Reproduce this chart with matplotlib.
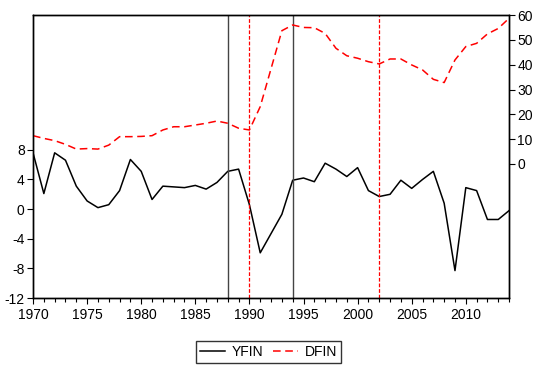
import matplotlib
matplotlib.use("Agg")
import matplotlib.pyplot as plt
from matplotlib.ticker import MultipleLocator

plt.rcParams["font.family"] = ["Liberation Sans", "DejaVu Sans"]
plt.rcParams["axes.unicode_minus"] = False

years = list(range(1970, 2015))

yfin = [7.6, 2.1, 7.6, 6.6, 3.1, 1.1, 0.2, 0.6, 2.5, 6.7,
        5.1, 1.3, 3.1, 3.0, 2.9, 3.2, 2.7, 3.6, 5.1, 5.4,
        0.6, -5.9, -3.3, -0.7, 3.9, 4.2, 3.7, 6.2, 5.4, 4.4,
        5.6, 2.5, 1.7, 2.0, 3.9, 2.8, 4.0, 5.1, 0.8, -8.3,
        2.9, 2.5, -1.4, -1.4, -0.2]

dfin = [11.4, 10.3, 9.4, 7.9, 6.0, 6.2, 6.0, 7.6, 11.0, 11.0,
        11.1, 11.4, 13.7, 15.0, 15.0, 15.7, 16.4, 17.3, 16.4, 14.4,
        13.7, 23.1, 38.4, 53.7, 56.0, 55.0, 54.9, 52.6, 46.6, 43.6,
        42.6, 41.2, 40.3, 42.3, 42.3, 39.9, 37.9, 34.1, 32.8, 41.9,
        47.3, 48.6, 52.4, 54.6, 58.7]

solid_breaks = [1988, 1994]
dashed_breaks = [1990, 2002]

fig = plt.figure(figsize=(5.37, 3.67), dpi=100)
ax = fig.add_axes([0.0615, 0.188, 0.8865, 0.771])
ax2 = ax.twinx()

l1, = ax.plot(years, yfin, color="black", lw=1.1, label="YFIN")
l2, = ax2.plot(years, dfin, color="red", lw=1.1, dashes=(5, 3), label="DFIN")

for yr in solid_breaks:
    ax.axvline(yr, color="#444444", lw=1.0)
for yr in dashed_breaks:
    ax.axvline(yr, color="red", lw=0.9, dashes=(3, 1.5))

ax.set_xlim(1970, 2014)
ax.set_ylim(-12, 26.2)
ax2.set_ylim(-54, 60)

ax.set_yticks([-12, -8, -4, 0, 4, 8])
ax2.set_yticks([0, 10, 20, 30, 40, 50, 60])
ax.xaxis.set_major_locator(MultipleLocator(5))
ax.xaxis.set_minor_locator(MultipleLocator(1))

for a in (ax, ax2):
    a.tick_params(which="both", direction="out", labelsize=10, width=0.8)
    a.tick_params(which="major", length=4)
    a.tick_params(which="minor", length=3)
    for s in a.spines.values():
        s.set_linewidth(1.0)
ax.tick_params(axis="y", pad=2)
ax2.tick_params(axis="y", pad=2)

fig.legend(handles=[l1, l2], loc="center", bbox_to_anchor=(0.5, 0.04),
           ncol=2, fontsize=10, frameon=True, fancybox=False, edgecolor="black",
           handlelength=1.8, handletextpad=0.5, columnspacing=0.7, borderpad=0.3)

fig.savefig("out.png", dpi=100)
